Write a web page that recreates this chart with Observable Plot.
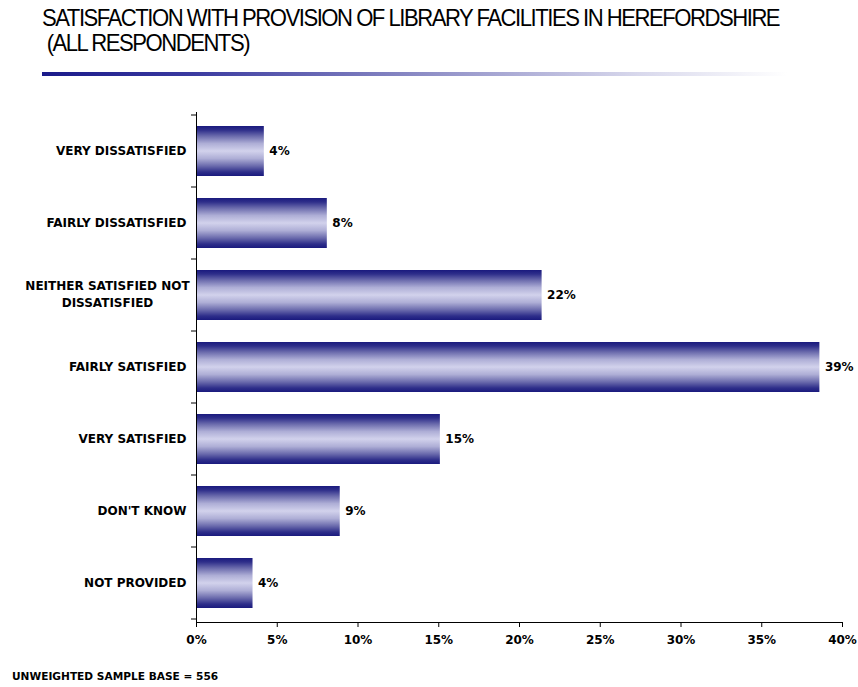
<!DOCTYPE html>
<html>
<head>
<meta charset="utf-8">
<script src="https://cdn.jsdelivr.net/npm/d3@7"></script>
<script src="https://cdn.jsdelivr.net/npm/@observablehq/plot@0.6"></script>
<style>
  html, body { margin: 0; padding: 0; background: #fff; }
  #wrap { position: relative; width: 858px; height: 687px; overflow: hidden; }
  #title { position: absolute; left: 42px; top: 5px; font-family: "Liberation Sans Narrow", "Arial Narrow", "Liberation Sans", sans-serif; font-size: 24px; letter-spacing: -1.6px; line-height: 25px; color: #000; white-space: pre; transform-origin: 0 0; transform: scaleX(0.92); }
  #rule { position: absolute; left: 42px; top: 72px; width: 745px; height: 4px; background: linear-gradient(to right, #1a1a8a 0%, #3a3aa0 20%, #8a8ac4 50%, #d8d8ec 80%, #ffffff 100%); }
  #foot { position: absolute; left: 12px; top: 670px; font-family: "DejaVu Sans", Verdana, sans-serif; font-weight: bold; font-size: 10.6px; color: #000; }
  #chart { position: absolute; left: 0; top: 0; }
</style>
</head>
<body>
<div id="wrap">
  <div id="chart"></div>
  <div id="title">SATISFACTION WITH PROVISION OF LIBRARY FACILITIES IN HEREFORDSHIRE
 (ALL RESPONDENTS)</div>
  <div id="rule"></div>
  <div id="foot">UNWEIGHTED SAMPLE BASE = 556</div>
</div>
<script>
const categories = [
  "VERY DISSATISFIED",
  "FAIRLY DISSATISFIED",
  "NEITHER SATISFIED NOT\nDISSATISFIED",
  "FAIRLY SATISFIED",
  "VERY SATISFIED",
  "DON'T KNOW",
  "NOT PROVIDED"
];
const values = [4.2, 8.1, 21.4, 38.6, 15.1, 8.9, 3.5];
const valueLabels = ["4%", "8%", "22%", "39%", "15%", "9%", "4%"];
const xTicks = [0, 5, 10, 15, 20, 25, 30, 35, 40];

const data = categories.map((c, i) => ({cat: c, value: values[i], label: valueLabels[i]}));
const singleLine = data.filter(d => !d.cat.includes("\n"));
const multiLine = data.filter(d => d.cat.includes("\n"));

const plot = Plot.plot({
  width: 858,
  height: 687,
  marginTop: 112,
  marginLeft: 196,
  marginRight: 16,
  marginBottom: 65,
  style: {fontFamily: "'DejaVu Sans', Verdana, sans-serif", fontWeight: "bold", fontSize: "12px", color: "#000", background: "transparent"},
  x: {domain: [0, 40]},
  y: {domain: categories, paddingInner: 0.31, paddingOuter: 0.155},
  marks: [
    Plot.barX(data, {x: "value", y: "cat", fill: "url(#barGrad)"}),
    Plot.text(data, {x: "value", y: "cat", text: "label", textAnchor: "start", dx: 5, fill: "#000", fontSize: 12}),
    Plot.text(singleLine, {y: "cat", frameAnchor: "left", text: "cat", textAnchor: "end", dx: -10, fill: "#000", fontSize: 12}),
    Plot.text(multiLine, {y: "cat", frameAnchor: "left", text: "cat", textAnchor: "middle", dx: -89, dy: -2, lineHeight: 1.4, fill: "#000", fontSize: 12}),
    Plot.axisX({ticks: xTicks, tickFormat: d => d + "%", tickSize: 5, tickPadding: 8, label: null, fontSize: 12, stroke: "#000"}),
    Plot.axisY({ticks: [], label: null, tickSize: 0}),
    Plot.frame({anchor: "left", stroke: "#000"}),
    Plot.frame({anchor: "bottom", stroke: "#000"})
  ]
});

const svg = d3.select(plot);
const defs = svg.insert("defs", ":first-child");
const grad = defs.append("linearGradient").attr("id", "barGrad").attr("x1", 0).attr("y1", 0).attr("x2", 0).attr("y2", 1);
[
  [0, "#1a1a7e"], [0.08, "#2e2e8a"], [0.2, "#6a6aac"], [0.35, "#aeaed6"],
  [0.5, "#d2d2ec"], [0.65, "#aeaed6"], [0.8, "#6a6aac"], [0.92, "#2e2e8a"], [1, "#1a1a7e"]
].forEach(([o, c]) => grad.append("stop").attr("offset", o).attr("stop-color", c));

const ys = plot.scale("y");
const bw = ys.bandwidth;
const step = ys.step || bw / (1 - 0.31);
const x0 = plot.scale("x").apply(0);
const g = svg.append("g").attr("stroke", "#000");
categories.forEach((c, i) => {
  const center = ys.apply(c) + bw / 2;
  const b = center - step / 2;
  g.append("line").attr("x1", x0 - 5).attr("x2", x0).attr("y1", b).attr("y2", b);
  if (i === categories.length - 1) {
    const e = center + step / 2;
    g.append("line").attr("x1", x0 - 5).attr("x2", x0).attr("y1", e).attr("y2", e);
  }
});

document.getElementById("chart").appendChild(plot);
</script>
</body>
</html>
